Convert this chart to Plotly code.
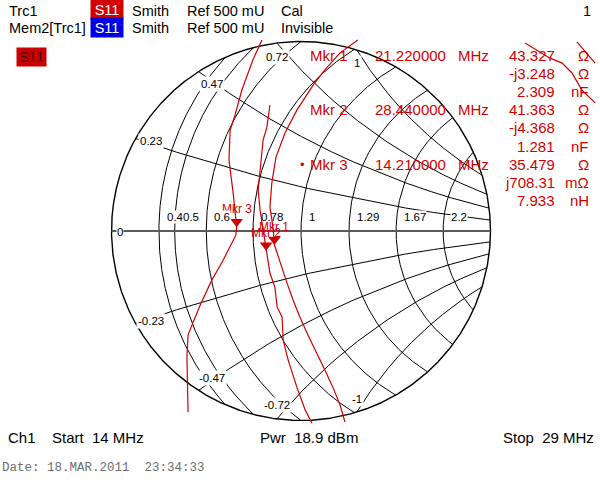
import numpy as np
import plotly.graph_objects as go

W, H = 600, 494
CX, CY, SCALE = 301, 231, 379   # pixel centre of the chart, pixels per unit of reflection
FONT = 'Liberation Sans, Arial, sans-serif'
RED = '#d20000'
Z0 = 50.0

# Smith grid (outer circle = |Gamma| 0.5, "Ref 500 mU")
r_circles = [1 / 2.2, 0.5, 0.6, 1 / 1.29, 1, 1.29, 1.67, 2.2]
r_labels = ['0.4', '0.5', '0.6', '0.78', '1', '1.29', '1.67', '2.2']
x_arcs = [0.23, 0.47, 0.72, 1]
x_labels = ['0.23', '0.47', '0.72', '1']

# marker readouts
mkr_names = ['Mkr 1', 'Mkr 2', 'Mkr 3']
mkr_freq = ['21.220000', '28.440000', '14.210000']
mkr_res = [43.327, 41.363, 35.479]
mkr_reac = [-3.248, -4.368, 0.70831]
mkr_reac_text = ['-j3.248', '-j4.368', 'j708.31']
mkr_reac_unit = ['Ω', 'Ω', 'mΩ']
mkr_lc = ['2.309', '1.281', '7.933']
mkr_lc_unit = ['nF', 'nF', 'nH']

trace_a_re = [-0.103, -0.127, -0.156, -0.174, -0.187, -0.190, -0.179, -0.172, -0.1697,
              -0.172, -0.187, -0.208, -0.235, -0.266, -0.298, -0.301, -0.298]
trace_a_im = [0.504, 0.451, 0.372, 0.306, 0.266, 0.187, 0.100, 0.037, 0.0097,
              -0.011, -0.042, -0.082, -0.129, -0.195, -0.274, -0.332, -0.478]
trace_b_re = [-0.082, -0.090, -0.100, -0.108, -0.113, -0.108, -0.100, -0.092, -0.087,
              -0.082, -0.069, -0.063, -0.050, -0.047, -0.034, -0.011, 0.011, 0.029]
trace_b_im = [0.332, 0.274, 0.240, 0.169, 0.108, 0.055, 0.003, -0.052, -0.084,
              -0.111, -0.148, -0.201, -0.227, -0.288, -0.340, -0.412, -0.472, -0.507]
trace_c_re = [0.150, 0.103, 0.063, 0.032, -0.011, -0.042, -0.066, -0.077, -0.082, -0.074,
              -0.070, -0.055, -0.037, -0.021, -0.003, 0.018, 0.042, 0.063, 0.084, 0.103, 0.116]
trace_c_im = [0.504, 0.470, 0.425, 0.385, 0.319, 0.259, 0.195, 0.127, 0.063, 0.011,
              -0.037, -0.084, -0.137, -0.182, -0.227, -0.274, -0.322, -0.367, -0.412, -0.459, -0.504]
trace_d_re = [0.591, 0.657, 0.689, 0.715, 0.741, 0.776]
trace_d_im = [0.496, 0.456, 0.443, 0.417, 0.372, 0.338]
trace_e_re = [0.728, 0.776]
trace_e_im = [0.499, 0.443]


def clip(u, v, lim=0.5):
    u = np.array(u, dtype=float)
    v = np.array(v, dtype=float)
    out = u ** 2 + v ** 2 > lim ** 2 + 1e-12
    xs = [None if o else float(a) for a, o in zip(u, out)]
    ys = [None if o else float(b) for b, o in zip(v, out)]
    return xs, ys


def pp(x, y):
    # pixel -> paper
    return x / W, 1 - y / H


fig = go.Figure()
grid = dict(color='black', width=1)

t = np.linspace(0, 2 * np.pi, 4000)
for r in r_circles:
    c, rad = r / (1 + r), 1 / (1 + r)
    xs, ys = clip(c + rad * np.cos(t), rad * np.sin(t))
    fig.add_trace(go.Scatter(x=xs, y=ys, mode='lines', line=grid, hoverinfo='skip'))

rr = np.concatenate([np.linspace(0, 5, 6000), np.logspace(0.7, 3, 500)])
for xv in x_arcs:
    for s in (1, -1):
        g = (rr + 1j * s * xv - 1) / (rr + 1j * s * xv + 1)
        xs, ys = clip(g.real, g.imag)
        fig.add_trace(go.Scatter(x=xs, y=ys, mode='lines', line=grid, hoverinfo='skip'))

fig.add_trace(go.Scatter(x=0.5 * np.cos(t), y=0.5 * np.sin(t), mode='lines',
                         line=dict(color='black', width=1.4), hoverinfo='skip'))
fig.add_trace(go.Scatter(x=[-0.5, 0.5], y=[0, 0], mode='lines',
                         line=dict(color='#5a5a5a', width=2), hoverinfo='skip'))

for re_, im_ in [(trace_a_re, trace_a_im), (trace_b_re, trace_b_im), (trace_c_re, trace_c_im),
                 (trace_d_re, trace_d_im), (trace_e_re, trace_e_im)]:
    fig.add_trace(go.Scatter(x=re_, y=im_, mode='lines', line=dict(color=RED, width=1.2),
                             hoverinfo='skip'))

# markers from the impedance readouts
gam = [(complex(r, x) - Z0) / (complex(r, x) + Z0) for r, x in zip(mkr_res, mkr_reac)]
tip = 5.5 / SCALE   # triangle tip sits on the point
fig.add_trace(go.Scatter(x=[g.real for g in gam], y=[g.imag + tip for g in gam], mode='markers',
                         marker=dict(symbol='triangle-down', size=11, color=RED), hoverinfo='skip'))
for i in (2, 1, 0):
    fig.add_annotation(x=gam[i].real, y=gam[i].imag, yshift=18, text=mkr_names[i], showarrow=False,
                       font=dict(family=FONT, size=12, color=RED))


def note(text, x, y, size=14.5, color='black', anchor='left', **kw):
    px_, py_ = pp(x, y)
    fig.add_annotation(text=text, x=px_, y=py_, xref='paper', yref='paper', xanchor=anchor,
                       yanchor='middle', showarrow=False,
                       font=dict(family=kw.pop('family', FONT), size=size, color=color), **kw)


# grid labels
for r, lab in zip(r_circles, r_labels):
    g0 = (r - 1) / (r + 1)
    note(lab, CX + g0 * SCALE + 7, 217, size=11.5, bgcolor=None if lab == '0.78' else 'white', borderpad=0)
note('0', 120, 232, size=11.5, anchor='center', bgcolor='white', borderpad=0)
x_lab_pos = [(151, 141), (212, 84), (277, 57), (357, 63)]
for lab, (lx, ly) in zip(x_labels, x_lab_pos):
    note(lab, lx, ly, size=11.5, anchor='center', bgcolor='white', borderpad=1)
    note('-' + lab, lx, 2 * CY - ly, size=11.5, anchor='center', bgcolor='white', borderpad=1)

# header
note('Trc1', 7, 11)
note('S11', 107, 10, anchor='center', color='white', bgcolor='#d20000', width=30, height=17)
note('Smith', 130, 11)
note('Ref 500 mU', 185, 11)
note('Cal', 279, 11)
note('1', 593, 11, anchor='right')
note('Mem2[Trc1]', 7, 28)
note('S11', 107, 27, anchor='center', color='white', bgcolor='#0000e6', width=30, height=17)
note('Smith', 130, 28)
note('Ref 500 mU', 185, 28)
note('Invisible', 279, 28)
note('S11', 31.5, 57, anchor='center', color='#3a0000', bgcolor='#cc0000', width=27, height=16)

# marker table
row0, dy = 55, 18.2
for i in range(3):
    y0 = row0 + 3 * i * dy
    note(mkr_names[i], 308, y0, size=15, color=RED)
    note(mkr_freq[i], 373, y0, size=15, color=RED)
    note('MHz', 456, y0, size=15, color=RED)
    note(f'{mkr_res[i]:.3f}', 557, y0, size=15, color=RED, anchor='right')
    note('Ω', 591, y0, size=15, color=RED, anchor='right')
    note(mkr_reac_text[i], 557, y0 + dy, size=15, color=RED, anchor='right')
    note(mkr_reac_unit[i], 591, y0 + dy, size=15, color=RED, anchor='right')
    note(mkr_lc[i], 557, y0 + 2 * dy, size=15, color=RED, anchor='right')
    note(mkr_lc_unit[i], 591, y0 + 2 * dy, size=15, color=RED, anchor='right')
note('•', 302, row0 + 6 * dy, size=13, color=RED, anchor='center')

# footer
note('Ch1', 6, 437, size=15)
note('Start\u00a0 14 MHz', 50, 437, size=15)
note('Pwr\u00a0 18.9 dBm', 258, 437, size=15)
note('Stop\u00a0 29 MHz', 596, 437, size=15, anchor='right')
note('Date: 18.MAR.2011\u00a0 23:34:33', 0, 468, size=12.5, color='#6e6e6e',
     family='Liberation Mono, Courier New, monospace')

fig.update_layout(
    width=W, height=H, margin=dict(l=0, r=0, t=0, b=0),
    paper_bgcolor='white', plot_bgcolor='white', showlegend=False,
    xaxis=dict(range=[-CX / SCALE, (W - CX) / SCALE], visible=False, fixedrange=True),
    yaxis=dict(range=[(CY - H) / SCALE, CY / SCALE], visible=False, fixedrange=True),
)

# page body has an 8px default margin; drop it so the figure fills the window
fig.write_html('out.html', config={'displayModeBar': False},
               post_script="document.body.style.margin='0';")
